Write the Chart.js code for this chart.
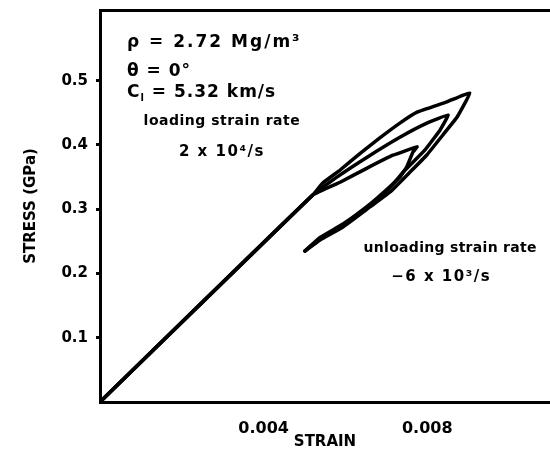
<!DOCTYPE html>
<html><head><meta charset="utf-8">
<script src="https://cdn.jsdelivr.net/npm/chart.js@4/dist/chart.umd.min.js"></script>
<style>html,body{margin:0;padding:0;background:#fff;overflow:hidden}#wrap{width:550px;height:456px;position:relative}</style>
</head><body><div id="wrap"><canvas id="c"></canvas></div>
<script>
// ---- data (strain, stress in GPa) ----
const innerStrain  = [0, 0.0052, 0.00587, 0.00653, 0.00716, 0.00775, 0.00765, 0.0075, 0.00733, 0.00705, 0.0066, 0.00594, 0.00538, 0.00501];
const innerStress  = [0, 0.322, 0.342, 0.364, 0.384, 0.397, 0.389, 0.366, 0.350, 0.333, 0.308, 0.277, 0.256, 0.235];
const middleStrain = [0, 0.0052, 0.00579, 0.00653, 0.00733, 0.00799, 0.00851, 0.00831, 0.00794, 0.00746, 0.00703, 0.0066, 0.00594, 0.00538, 0.00501];
const middleStress = [0, 0.322, 0.350, 0.381, 0.412, 0.434, 0.4466, 0.423, 0.392, 0.361, 0.330, 0.306, 0.275, 0.254, 0.235];
const outerStrain  = [0, 0.0052, 0.00545, 0.00587, 0.00636, 0.00684, 0.00733, 0.00775, 0.00848, 0.00904, 0.00873, 0.00838, 0.00799, 0.00758, 0.00709, 0.0066, 0.00594, 0.00538, 0.00501];
const outerStress  = [0, 0.322, 0.341, 0.361, 0.387, 0.411, 0.434, 0.451, 0.467, 0.481, 0.4435, 0.4155, 0.3844, 0.3579, 0.3268, 0.3035, 0.2723, 0.2521, 0.235];
const xTickValues = [0.004, 0.008];
const yTickValues = [0.1, 0.2, 0.3, 0.4, 0.5];
const xTitle = 'STRAIN';
const yTitle = 'STRESS (GPa)';
const notes = [
  {text: 'ρ = 2.72 Mg/m³', x: 0.00066, y: 0.560, align: 'left', size: 17, sp: 2},
  {text: 'θ = 0°', x: 0.00066, y: 0.5135, align: 'left', size: 17, sp: 1},
  {text: 'C|l| = 5.32 km/s', x: 0.00066, y: 0.482, align: 'left', size: 17, sp: 1},
  {text: 'loading strain rate', x: 0.00298, y: 0.436, align: 'center', size: 14, sp: 0.5},
  {text: '2 x 10⁴/s', x: 0.00298, y: 0.389, align: 'center', size: 15, sp: 1.5},
  {text: 'unloading strain rate', x: 0.00856, y: 0.2397, align: 'center', size: 14, sp: 0.3},
  {text: '−6 x 10³/s', x: 0.00834, y: 0.1945, align: 'center', size: 15, sp: 1.5}
];

const toPts = (xs, ys) => xs.map((x, i) => ({x, y: ys[i]}));
const FONT = "'DejaVu Sans', sans-serif";

const notesPlugin = {
  id: 'notes',
  afterDatasetsDraw(chart) {
    const {ctx, scales} = chart;
    ctx.save();
    ctx.fillStyle = '#000';
    ctx.textBaseline = 'middle';
    ctx.textAlign = 'left';
    notes.forEach(n => {
      const px = scales.x.getPixelForValue(n.x);
      const py = scales.y.getPixelForValue(n.y);
      if ('letterSpacing' in ctx) ctx.letterSpacing = n.sp + 'px';
      const parts = n.text.split('|');
      const fontFor = i => `bold ${i % 2 ? Math.round(n.size * 0.6) : n.size}px ${FONT}`;
      const widths = parts.map((p, i) => { ctx.font = fontFor(i); return ctx.measureText(p).width; });
      const total = widths.reduce((a, b) => a + b, 0);
      let x = n.align === 'center' ? px - total / 2 : px;
      parts.forEach((p, i) => {
        ctx.font = fontFor(i);
        ctx.fillText(p, x, i % 2 ? py + n.size * 0.35 : py);
        x += widths[i];
      });
    });
    ctx.restore();
  }
};

const lineStyle = {
  showLine: true, borderColor: '#000', borderWidth: 3.5, pointRadius: 0,
  tension: 0.1, fill: false, borderJoinStyle: 'round', borderCapStyle: 'round'
};

new Chart(document.getElementById('c'), {
  type: 'scatter',
  data: {
    datasets: [
      Object.assign({label: 'inner', data: toPts(innerStrain, innerStress)}, lineStyle),
      Object.assign({label: 'middle', data: toPts(middleStrain, middleStress)}, lineStyle),
      Object.assign({label: 'outer', data: toPts(outerStrain, outerStress)}, lineStyle)
    ]
  },
  options: {
    responsive: true, maintainAspectRatio: false, animation: false,
    layout: {padding: 0},
    plugins: {legend: {display: false}, tooltip: {enabled: false}},
    scales: {
      x: {
        type: 'linear', position: 'bottom', min: 0, max: 0.011,
        afterFit: s => { s.height = 54; s.paddingLeft = 0; s.paddingRight = 0; },
        afterBuildTicks: s => { s.ticks = xTickValues.map(v => ({value: v})); },
        grid: {display: false, drawTicks: false},
        border: {display: true, color: '#000', width: 3},
        ticks: {color: '#000', padding: 17, font: {family: FONT, size: 16, weight: 'bold'},
                callback: v => v.toFixed(3), maxRotation: 0},
        title: {display: true, text: xTitle, color: '#000', padding: {top: 0, bottom: 5},
                font: {family: FONT, size: 15, weight: 'bold'}}
      },
      x2: {
        type: 'linear', position: 'top', min: 0, max: 0.011, display: true,
        afterFit: s => { s.height = 10; },
        grid: {display: false, drawTicks: false},
        border: {display: true, color: '#000', width: 3},
        ticks: {display: false}
      },
      y: {
        type: 'linear', position: 'left', min: 0, max: 0.61,
        afterFit: s => { s.width = 100; s.paddingTop = 0; s.paddingBottom = 0; },
        afterBuildTicks: s => { s.ticks = yTickValues.map(v => ({value: v})); },
        grid: {display: true, drawOnChartArea: false, drawTicks: true, tickLength: 4, color: '#000', lineWidth: 3},
        border: {display: true, color: '#000', width: 3},
        ticks: {color: '#000', padding: 8, font: {family: FONT, size: 15, weight: 'bold'},
                callback: v => v.toFixed(1)},
        title: {display: true, text: yTitle, color: '#000', padding: {top: 22, bottom: 0},
                font: {family: FONT, size: 15, weight: 'bold'}}
      }
    }
  },
  plugins: [notesPlugin]
});
</script></body></html>
